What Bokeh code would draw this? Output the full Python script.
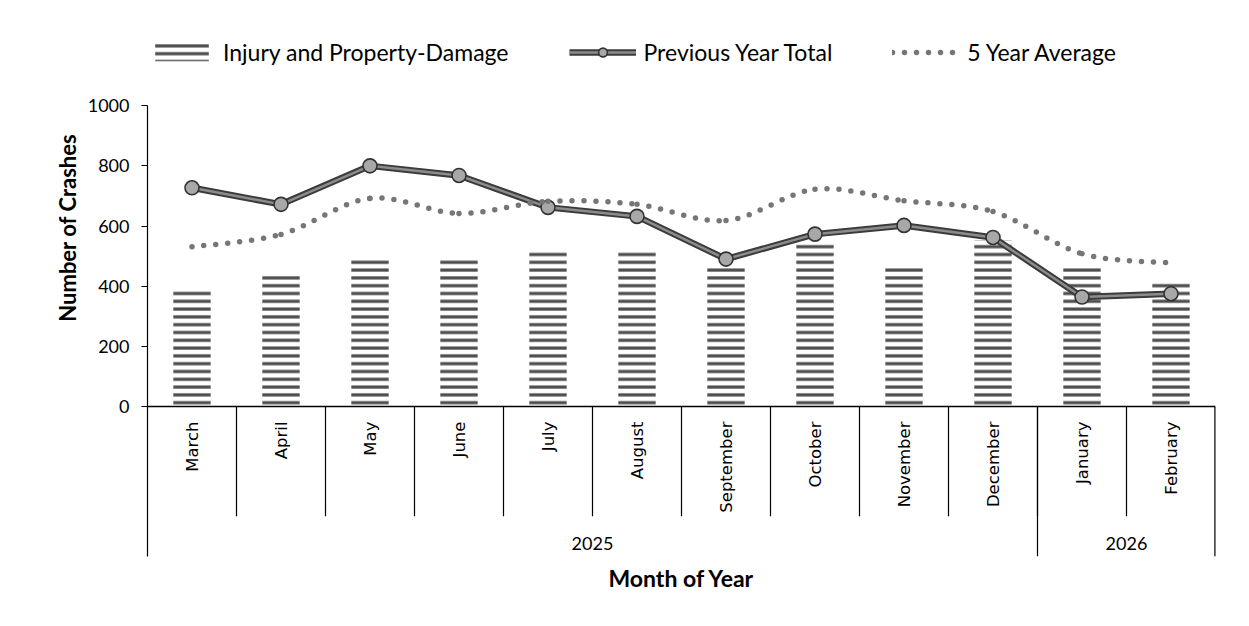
import math
from bokeh.plotting import figure
from bokeh.models import (ColumnDataSource, FactorRange, Range1d, FixedTicker,
                          Legend, LegendItem, Title, Span)
from bokeh.core.properties import value
from bokeh.embed import file_html
from bokeh.resources import INLINE

# ---------------- data ----------------
months = ["March", "April", "May", "June", "July", "August", "September",
          "October", "November", "December", "January", "February"]
years = ["2025", "2025", "2025", "2025", "2025", "2025", "2025",
         "2025", "2025", "2025", "2026", "2026"]
injury = [393, 444, 494, 497, 517, 520, 470, 547, 470, 552, 470, 417]
previous_year = [727, 672, 800, 768, 662, 632, 490, 573, 602, 562, 364, 375]
five_year_avg = [531, 572, 692, 642, 682, 672, 618, 722, 684, 648, 508, 477]
y_ticks = [0, 200, 400, 600, 800, 1000]

# ---------------- layout constants (data units of the y scale) ----------------
Y_TOP = 1250          # room above the value range for the legend
Y_LOW = -645          # room below 0 for the category axis and its title
AXIS_BOTTOM = -498    # bottom of the year-group dividers
LABEL_Y = -50         # anchor of rotated month labels
MONTH_DIV_Y = -365    # bottom of month dividers
YEAR_Y = -455         # year group labels
TITLE_Y = -571        # "Month of Year"

FONT = "Lato"

p = figure(width=1249, height=626, output_backend="svg", toolbar_location=None,
           x_range=FactorRange(*months, factor_padding=0, range_padding=0),
           y_range=Range1d(Y_LOW, Y_TOP),
           min_border_left=147, min_border_right=34, min_border_top=30,
           min_border_bottom=26)
p.outline_line_color = None
p.background_fill_color = "white"
p.border_fill_color = "white"
p.xgrid.visible = False
p.ygrid.visible = False
p.xaxis.visible = False

ax = p.yaxis[0]
ax.ticker = FixedTicker(ticks=y_ticks)
ax.bounds = (AXIS_BOTTOM, 1000)
ax.minor_tick_line_color = None
ax.major_tick_in = 0
ax.major_tick_out = 6
ax.major_tick_line_color = "black"
ax.axis_line_color = "black"
ax.axis_line_width = 1.2
ax.major_label_standoff = 12
ax.major_label_text_font = FONT
ax.major_label_text_font_size = "18px"
ax.major_label_text_color = "black"

# y title (anchored near the top so it sits beside the 0-1000 value range)
p.add_layout(Title(text="Number of Crashes", align="right", offset=103,
                   text_font=FONT, text_font_style="bold", text_font_size="22px",
                   text_color="black", standoff=8), "left")

# ---------------- bars ----------------
src = ColumnDataSource(dict(month=months, injury=injury, prev=previous_year,
                            avg=five_year_avg, year=years))
bars = p.vbar(x="month", top="injury", width=0.42, source=src,
              fill_color="white", line_color=None,
              hatch_pattern="horizontal_line", hatch_color="#4d4d4d",
              hatch_weight=3.2, hatch_scale=7.8)

p.add_layout(Span(location=0, dimension="width", line_color="black", line_width=1.5))

# ---------------- previous year line ----------------
prev_outer = p.line(x="month", y="prev", source=src, line_color="#3c3c3c",
                    line_width=6.5, line_join="round")
prev_inner = p.line(x="month", y="prev", source=src, line_color="#8c8c8c",
                    line_width=2.5, line_join="round")
prev_pts = p.scatter(x="month", y="prev", source=src, marker="circle", size=14,
                     fill_color="#a8a8a8", line_color="#333333", line_width=1.6)

# ---------------- 5 year average (smoothed, dotted) ----------------
n = len(months)
t = 1.0 / 6.0
bz = dict(x0=[], y0=[], x1=[], y1=[], cx0=[], cy0=[], cx1=[], cy1=[])
for i in range(n - 1):
    ip = max(i - 1, 0)
    inx = min(i + 2, n - 1)
    bz["x0"].append(months[i])
    bz["y0"].append(five_year_avg[i])
    bz["x1"].append(months[i + 1])
    bz["y1"].append(five_year_avg[i + 1])
    bz["cx0"].append((months[i], (i + 1 - ip) * t))
    bz["cy0"].append(five_year_avg[i] + (five_year_avg[i + 1] - five_year_avg[ip]) * t)
    bz["cx1"].append((months[i + 1], -(inx - i) * t))
    bz["cy1"].append(five_year_avg[i + 1] - (five_year_avg[inx] - five_year_avg[i]) * t)
avg_r = p.bezier(x0="x0", y0="y0", x1="x1", y1="y1", cx0="cx0", cy0="cy0",
                 cx1="cx1", cy1="cy1", source=ColumnDataSource(bz),
                 line_color="#767676", line_width=5.5, line_dash="0 12",
                 line_cap="round")

# ---------------- category axis (months + year groups) ----------------
p.text(x="month", y=LABEL_Y, text="month", source=src, angle=math.pi / 2,
       text_align="right", text_baseline="middle",
       text_font=value("DejaVu Sans"), text_font_size="16.5px", text_color="black")

month_div = [(m, -0.5) for m in months[1:]]
p.segment(x0=month_div, y0=[0] * len(month_div), x1=month_div,
          y1=[MONTH_DIV_Y] * len(month_div), line_color="black", line_width=1.2)

groups = []
for i, yr in enumerate(years):
    if i == 0 or yr != years[i - 1]:
        groups.append([yr, i, i])
    else:
        groups[-1][2] = i
grp_div = [(months[g[1]], -0.5) for g in groups[1:]]
p.segment(x0=grp_div, y0=[0] * len(grp_div), x1=grp_div,
          y1=[AXIS_BOTTOM] * len(grp_div), line_color="black", line_width=1.2)
p.segment(x0=[(months[-1], 0.5)], y0=[0], x1=[(months[-1], 0.5)], y1=[AXIS_BOTTOM],
          line_color="black", line_width=2.4)

yr_src = ColumnDataSource(dict(
    x=[(months[g[1]], (g[2] - g[1]) / 2.0) for g in groups],
    text=[g[0] for g in groups]))
p.text(x="x", y=YEAR_Y, text="text", source=yr_src, text_align="center",
       text_baseline="middle", text_font=value(FONT), text_font_size="18px",
       text_color="black")

# x title, centred under the whole category axis
p.text(x=[(months[0], n / 2.0 - 0.5)], y=[TITLE_Y], text=["Month of Year"],
       text_align="center", text_baseline="middle", text_font=value(FONT),
       text_font_style="bold", text_font_size="23px", text_color="black")

# ---------------- legend ----------------
legend = Legend(items=[
    LegendItem(label="Injury and Property-Damage", renderers=[bars]),
    LegendItem(label="Previous Year Total", renderers=[prev_outer, prev_inner, prev_pts]),
    LegendItem(label="5 Year Average", renderers=[avg_r]),
], location=(1, 534), orientation="horizontal", glyph_width=67, glyph_height=22,
    label_standoff=8, spacing=60, padding=0, margin=0, border_line_color=None,
    background_fill_alpha=0, label_text_font=FONT, label_text_font_size="23px",
    label_text_color="black")
p.add_layout(legend)

open("out.html", "w").write(file_html(p, INLINE))
